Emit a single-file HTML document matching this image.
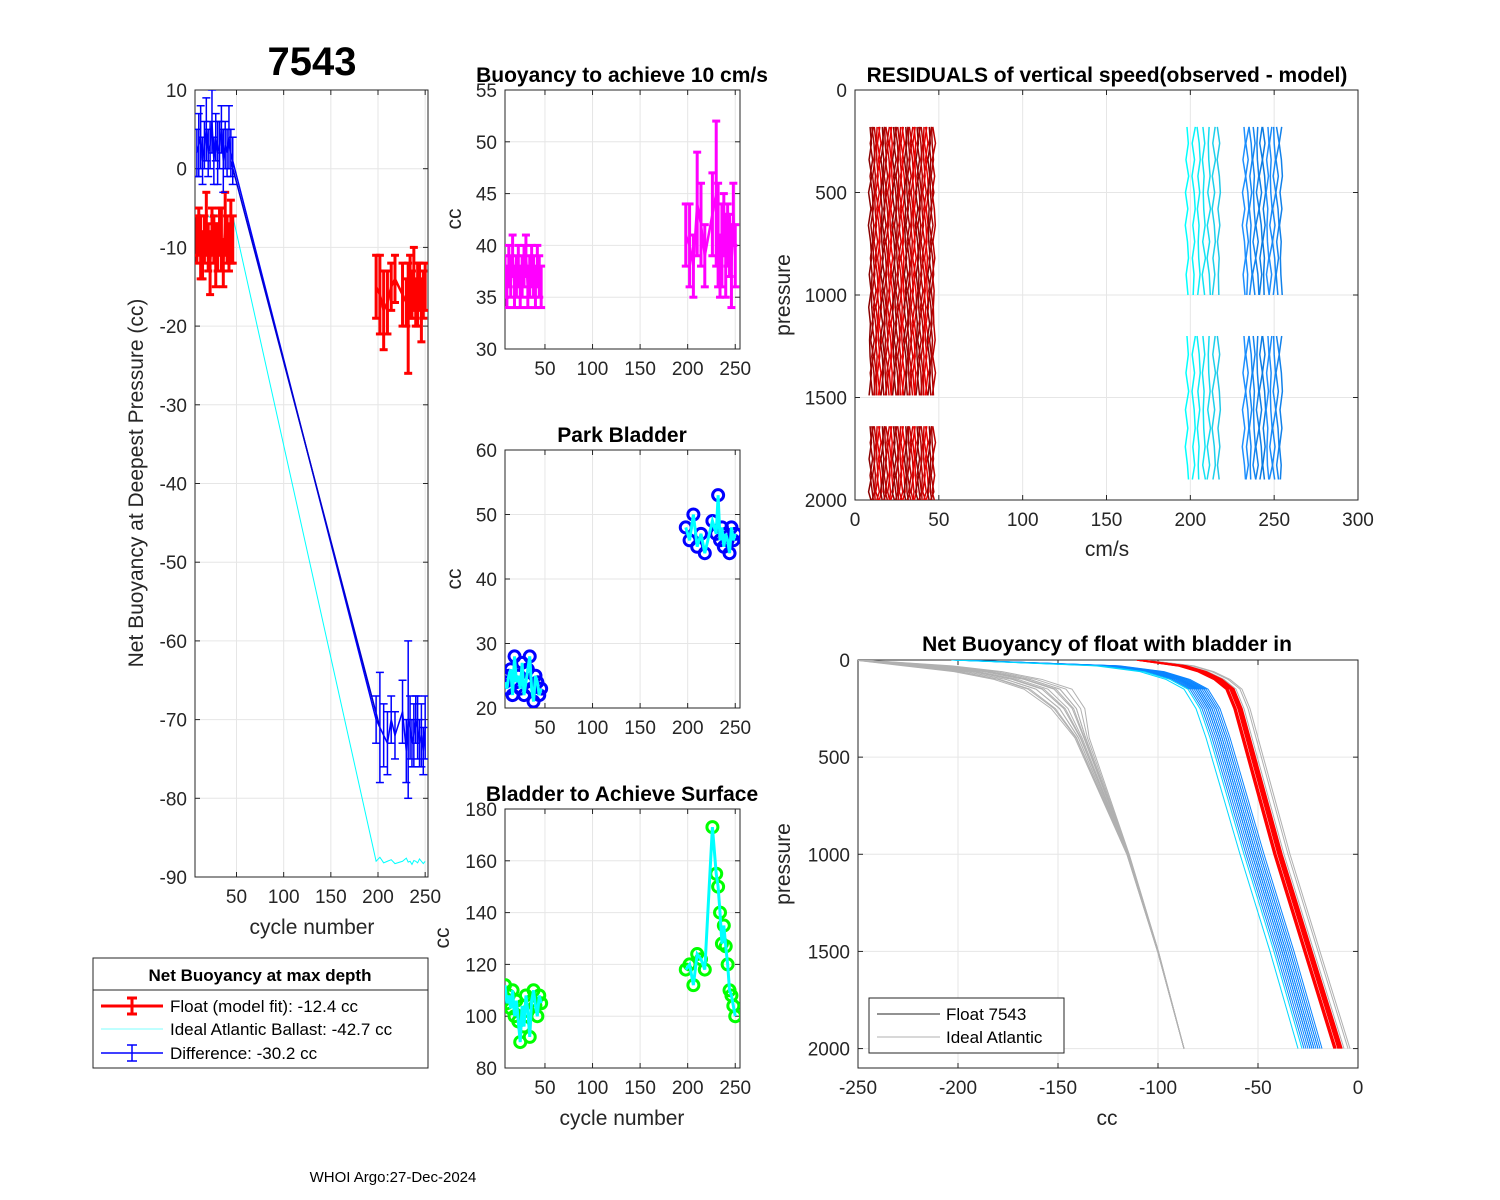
<!DOCTYPE html>
<html><head><meta charset="utf-8"><style>
body{margin:0;background:#fff}
svg{display:block;font-family:"Liberation Sans",Arial,sans-serif}
</style></head><body>
<svg id="c" width="1500" height="1200" viewBox="0 0 1500 1200" xmlns="http://www.w3.org/2000/svg">
<rect width="1500" height="1200" fill="#fff"/>
</svg>
<script>
// ---- data ----
const cyclesEarly=[8,10,12,14,16,18,20,22,24,26,28,30,32,34,36,38,40,42,44,46];
const cyclesLate=[198,202,206,210,214,218,226,230,232,234,236,238,240,242,244,246,248,250];
const floatEarly=[-9,-8,-10,-11,-9,-7,-10,-12,-8,-9,-11,-10,-8,-9,-12,-7,-9,-10,-8,-9];
const floatErrEarly=[3,3,4,3,3,4,3,4,3,3,4,3,3,4,3,4,3,3,4,3];
const floatLate=[-15,-16,-18,-17,-15,-14,-16,-17,-19,-15,-16,-14,-17,-16,-15,-18,-16,-15];
const floatErrLate=[4,5,5,4,3,3,4,3,7,4,3,4,3,4,3,4,3,3];
const diffEarly=[2,3,4,1,3,5,2,3,6,1,4,2,3,5,1,3,2,4,2,1];
const diffLate=[-70,-71,-72,-73,-70,-72,-69,-74,-70,-71,-73,-72,-70,-71,-73,-72,-74,-71];
const diffErrEarly=[3,4,4,3,3,4,3,3,4,3,3,4,3,3,4,3,3,4,3,3];
const diffErrLate=[3,7,4,4,3,3,4,4,10,4,3,4,3,4,3,4,3,4];
const idealEarly=[-6,-6.2,-5.8,-6,-6.1,-5.9,-6,-6.2,-6,-5.8,-6,-6.1,-6,-5.9,-6,-6.1,-5.9,-6,-6,-6];
const idealLate=[-88,-87.5,-88.2,-88,-87.8,-88.3,-88,-87.6,-88.1,-88,-88.4,-87.9,-88,-88.2,-87.7,-88,-88.3,-88];
const buoyEarly=[37,36,38,37,39,36,37,38,36,37,38,39,36,37,38,37,36,38,37,36];
const buoyErrEarly=[2,2,2,2,2,2,2,2,2,2,2,2,2,2,2,2,2,2,2,2];
const buoyLate=[41,40,38,44,42,39,43,45,41,38,40,42,39,41,40,38,43,39];
const buoyErrLate=[3,4,3,5,4,3,4,7,5,3,4,3,4,3,3,4,3,3];
const parkEarly=[24,23,25,26,22,28,24,25,23,27,22,24,26,28,23,21,25,24,22,23];
const parkLate=[48,46,50,45,47,44,49,47,53,46,48,45,47,46,44,48,46,47];
const bladEarly=[112,105,108,103,110,100,106,98,90,104,96,108,102,92,106,110,104,100,108,105];
const bladLate=[118,120,112,124,122,118,173,155,150,140,128,135,127,120,110,108,104,100];
const resCyclesEarly=[9,10,11,12,13,14,15,16,17,18,19,20,21,22,23,24,25,26,27,28,29,30,31,32,33,34,35,36,37,38,39,40,41,42,43,44,45,46,47];
const resCyclesCyan=[198,202,205,208,211,214,217];
const resCyclesBlue=[232,234,236,238,240,242,244,246,248,250,252,254];
const resPress=[180,260,340,420,500,580,660,740,820,900,980,1060,1140,1220,1300,1380,1490];
const resPress2=[1640,1720,1800,1880,1960,2000];
const resPressL=[180,260,340,420,500,580,660,740,820,900,1000];
const resPressL2=[1200,1290,1380,1470,1560,1650,1740,1830,1900];
const resWiggle=[0,0.8,-0.6,1,-0.9,0.5,-1,0.3,0.9,-0.5,0.6,-0.8,0.2,-0.3];
const profPress=[0,30,60,100,150,250,400,1000,1500,2000];
const idealProfile=[-250,-215,-190,-170,-155,-145,-138,-115,-100,-87];
const blueProfile=[-200,-120,-98,-85,-76,-70,-65,-48,-33,-19];
const redProfile=[-110,-88,-78,-70,-64,-60,-56,-40,-25,-10];
const idealOffsets=[-12,-9,-6,-3,0,3,6,9,12,-10,6,-2,4,-6];
const blueOffsets=[-6,-5,-4,-3,-2,-1,0,-5,-3,-1,1,-7,-8,-4];
const redOffsets=[-2,-1,0,1,2,-1.5,0.5,1.5];

// ---- helpers ----
const S='http://www.w3.org/2000/svg', svg=document.getElementById('c');
function el(t,a,p){const e=document.createElementNS(S,t);for(const k in a)e.setAttribute(k,a[k]);(p||svg).appendChild(e);return e;}
function txt(x,y,s,o){const e=el('text',Object.assign({x:x,y:y,'font-size':19,fill:'#262626','text-anchor':'middle'},o||{}));e.textContent=s;return e;}
function axes(name,x0,y0,x1,y1,xl,yl,xt,yt,yrev){
  const g=el('g',{});
  
  
  const sx=v=>x0+(v-xl[0])/(xl[1]-xl[0])*(x1-x0);
  const sy=yrev?v=>y0+(v-yl[0])/(yl[1]-yl[0])*(y1-y0):v=>y1-(v-yl[0])/(yl[1]-yl[0])*(y1-y0);
  xt.forEach(t=>{const X=sx(t);el('line',{x1:X,x2:X,y1:y0,y2:y1,stroke:'#e6e6e6'},g);
    el('line',{x1:X,x2:X,y1:y1,y2:y1-5,stroke:'#262626'},g);el('line',{x1:X,x2:X,y1:y0,y2:y0+5,stroke:'#262626'},g);
    const l=txt(X,y1+26,String(t),{});});
  yt.forEach(t=>{const Y=sy(t);el('line',{x1:x0,x2:x1,y1:Y,y2:Y,stroke:'#e6e6e6'},g);
    el('line',{x1:x0,x2:x0+5,y1:Y,y2:Y,stroke:'#262626'},g);el('line',{x1:x1,x2:x1-5,y1:Y,y2:Y,stroke:'#262626'},g);
    const l=txt(x0-8,Y+7,String(t),{'text-anchor':'end'});});
  el('rect',{x:x0,y:y0,width:x1-x0,height:y1-y0,fill:'none',stroke:'#262626'},g);
  const cl=el('clipPath',{id:name+'-clip'});el('rect',{x:x0,y:y0,width:x1-x0,height:y1-y0},cl);
  const d=el('g',{'clip-path':'url(#'+name+'-clip)'});
  return {sx,sy,d};
}
function poly(a,xs,ys,style){const e=el('polyline',Object.assign({points:xs.map((x,i)=>a.sx(x)+','+a.sy(ys[i])).join(' '),fill:'none'},style),a.d);return e;}
function errbars(a,xs,ys,es,col,w,cap,nm){xs.forEach((x,i)=>{const X=a.sx(x),Y1=a.sy(ys[i]-es[i]),Y2=a.sy(ys[i]+es[i]);
  const g=el('g',{stroke:col,'stroke-width':w},a.d);
  
  
  el('line',{x1:X,x2:X,y1:Y1,y2:Y2},g);el('line',{x1:X-cap,x2:X+cap,y1:Y1,y2:Y1},g);el('line',{x1:X-cap,x2:X+cap,y1:Y2,y2:Y2},g);});}
function circles(a,xs,ys,col,nm){xs.forEach((x,i)=>{const c=el('circle',{cx:a.sx(x),cy:a.sy(ys[i]),r:5.5,fill:'none',stroke:col,'stroke-width':3},a.d);
  
  });}
function lerpCol(c1,c2,t){const h=s=>[1,3,5].map(i=>parseInt(s.substr(i,2),16));const a=h(c1),b=h(c2);return 'rgb('+a.map((v,i)=>Math.round(v+(b[i]-v)*t)).join(',')+')';}

// ---- panel 1 ----
const A1=axes('net-buoyancy-axes',195,90,428,877,[6,253],[-90,10],[50,100,150,200,250],[-90,-80,-70,-60,-50,-40,-30,-20,-10,0,10]);
const allC=cyclesEarly.concat(cyclesLate);
poly(A1,allC,idealEarly.concat(idealLate),{stroke:'#00ffff','stroke-width':1});
poly(A1,allC,diffEarly.concat(diffLate),{stroke:'#0000ff','stroke-width':1.5});
poly(A1,[cyclesEarly[18],cyclesLate[1]],[diffEarly[18]-1,diffLate[1]],{stroke:'#0000cc','stroke-width':1.5});
poly(A1,cyclesEarly,floatEarly,{stroke:'#ff0000','stroke-width':2.5});
poly(A1,cyclesLate,floatLate,{stroke:'#ff0000','stroke-width':2.5});
errbars(A1,cyclesEarly,floatEarly,floatErrEarly,'#ff0000',3,4,'float-errorbar');
errbars(A1,cyclesLate,floatLate,floatErrLate,'#ff0000',3,4,'float-errorbar');
errbars(A1,cyclesEarly,diffEarly,diffErrEarly,'#0000ff',1.5,4,'difference-errorbar');
errbars(A1,cyclesLate,diffLate,diffErrLate,'#0000ff',1.5,4,'difference-errorbar');
txt(312,75,'7543',{'font-size':40,'font-weight':'bold',fill:'#000'});
txt(312,934,'cycle number',{'font-size':21});
txt(143,483,'Net Buoyancy at Deepest Pressure (cc)',{'font-size':21,transform:'rotate(-90 143 483)'});
// legend 1
const L1=el('g',{});
el('rect',{x:93,y:958,width:335,height:110,fill:'#fff',stroke:'#262626'},L1);
el('line',{x1:93,x2:428,y1:990,y2:990,stroke:'#262626'},L1);
txt(260,981,'Net Buoyancy at max depth',{'font-size':17,'font-weight':'bold',fill:'#000'});
[[1006,'#ff0000',3,'Float (model fit): -12.4 cc',1],[1029,'#00ffff',0.6,'Ideal Atlantic Ballast: -42.7 cc',0],[1053,'#0000ff',1.5,'Difference: -30.2 cc',1]].forEach(r=>{
  const g=el('g',{stroke:r[1],'stroke-width':r[2]},L1);el('line',{x1:101,x2:163,y1:r[0],y2:r[0]},g);
  if(r[4]){el('line',{x1:132,x2:132,y1:r[0]-8,y2:r[0]+8},g);el('line',{x1:127,x2:137,y1:r[0]-8,y2:r[0]-8},g);el('line',{x1:127,x2:137,y1:r[0]+8,y2:r[0]+8},g);}
  const t=txt(170,r[0]+6,r[3],{'font-size':17,'text-anchor':'start',fill:'#000'});});

// ---- panel 2 ----
const A2=axes('buoyancy-axes',505,90,740,349,[8,255],[30,55],[50,100,150,200,250],[30,35,40,45,50,55]);
poly(A2,cyclesEarly,buoyEarly,{stroke:'#ff00ff','stroke-width':2.5});
poly(A2,cyclesLate,buoyLate,{stroke:'#ff00ff','stroke-width':2.5});
errbars(A2,cyclesEarly,buoyEarly,buoyErrEarly,'#ff00ff',3,4,'buoyancy-errorbar');
errbars(A2,cyclesLate,buoyLate,buoyErrLate,'#ff00ff',3,4,'buoyancy-errorbar');
txt(622,82,'Buoyancy to achieve 10 cm/s',{'font-size':21,'font-weight':'bold',fill:'#000'});
txt(461,219,'cc',{'font-size':21,transform:'rotate(-90 461 219)'});

// ---- panel 3 ----
const A3=axes('park-bladder-axes',505,450,740,708,[8,255],[20,60],[50,100,150,200,250],[20,30,40,50,60]);
circles(A3,allC,parkEarly.concat(parkLate),'#0000ff','park-point');
poly(A3,cyclesEarly,parkEarly,{stroke:'#00ffff','stroke-width':3});
poly(A3,cyclesLate,parkLate,{stroke:'#00ffff','stroke-width':3});
txt(622,442,'Park Bladder',{'font-size':21,'font-weight':'bold',fill:'#000'});
txt(461,579,'cc',{'font-size':21,transform:'rotate(-90 461 579)'});

// ---- panel 4 ----
const A4=axes('bladder-surface-axes',505,809,740,1068,[8,255],[80,180],[50,100,150,200,250],[80,100,120,140,160,180]);
circles(A4,allC,bladEarly.concat(bladLate),'#00ff00','bladder-point');
poly(A4,cyclesEarly,bladEarly,{stroke:'#00ffff','stroke-width':3});
poly(A4,cyclesLate,bladLate,{stroke:'#00ffff','stroke-width':3});
txt(622,801,'Bladder to Achieve Surface',{'font-size':21,'font-weight':'bold',fill:'#000'});
txt(622,1125,'cycle number',{'font-size':21});
txt(449,938,'cc',{'font-size':21,transform:'rotate(-90 449 938)'});

// ---- panel 5 ----
const A5=axes('residuals-axes',855,90,1358,500,[0,300],[0,2000],[0,50,100,150,200,250,300],[0,500,1000,1500,2000],true);
function resLines(cyc,pA,pB,c1,c2,nm){cyc.forEach((c,i)=>{const col=lerpCol(c1,c2,(i%7)/6);
  [pA,pB].forEach(P=>{const xs=P.map((p,j)=>c+resWiggle[(i*3+j)%resWiggle.length]);
    const l=poly(A5,xs,P,{stroke:col,'stroke-width':1.5});});});}
resLines(resCyclesEarly,resPress,resPress2,'#8b0000','#ee0000','residual-line-early');
resLines(resCyclesCyan,resPressL,resPressL2,'#00ffff','#20c8e8','residual-line-cyan');
resLines(resCyclesBlue,resPressL,resPressL2,'#1e90ff','#0a7ae0','residual-line-blue');
txt(1107,82,'RESIDUALS of vertical speed(observed - model)',{'font-size':21,'font-weight':'bold',fill:'#000'});
txt(1107,556,'cm/s',{'font-size':21});
txt(790,295,'pressure',{'font-size':21,transform:'rotate(-90 790 295)'});

// ---- panel 6 ----
const A6=axes('net-buoyancy-profile-axes',858,660,1358,1068,[-250,0],[0,2100],[-250,-200,-150,-100,-50,0],[0,500,1000,1500,2000],true);
const taper=[0.2,1,1,1,1,0.7,0.3,0.05,0.02,0];
function profLines(base,offs,col,nm,w,tp){offs.forEach((o,i)=>{const xs=base.map((v,j)=>v+o*tp[j]);
  const l=poly(A6,xs,profPress,{stroke:col,'stroke-width':w});});}
const flat=[0.3,1,1,1,1,1,1,1,1,1];
profLines(idealProfile,idealOffsets,'#b0b0b0','ideal-profile',1,taper);
profLines(redProfile.map(v=>v+2),[1,3,4],'#b0b0b0','ideal-profile-float',1,flat);
profLines(blueProfile,blueOffsets,'#0a84ff','float-profile-blue',1,flat);
profLines(blueProfile,[-9,-11],'#00d8ff','float-profile-cyan',1,flat);
profLines(redProfile,redOffsets,'#ff0000','float-profile-red',1.5,flat);
txt(1107,651,'Net Buoyancy of float with bladder in',{'font-size':21,'font-weight':'bold',fill:'#000'});
txt(1107,1125,'cc',{'font-size':21});
txt(790,864,'pressure',{'font-size':21,transform:'rotate(-90 790 864)'});
const L6=el('g',{});
el('rect',{x:869,y:998,width:195,height:55,fill:'#fff',stroke:'#262626'},L6);
el('line',{x1:877,x2:940,y1:1014,y2:1014,stroke:'#262626'},L6);
el('line',{x1:877,x2:940,y1:1037,y2:1037,stroke:'#b0b0b0'},L6);
txt(946,1020,'Float 7543',{'font-size':17,'text-anchor':'start',fill:'#000'});
txt(946,1043,'Ideal Atlantic',{'font-size':17,'text-anchor':'start',fill:'#000'});

txt(393,1182,'WHOI Argo:27-Dec-2024',{'font-size':15,fill:'#000'});
</script>
</body></html>
